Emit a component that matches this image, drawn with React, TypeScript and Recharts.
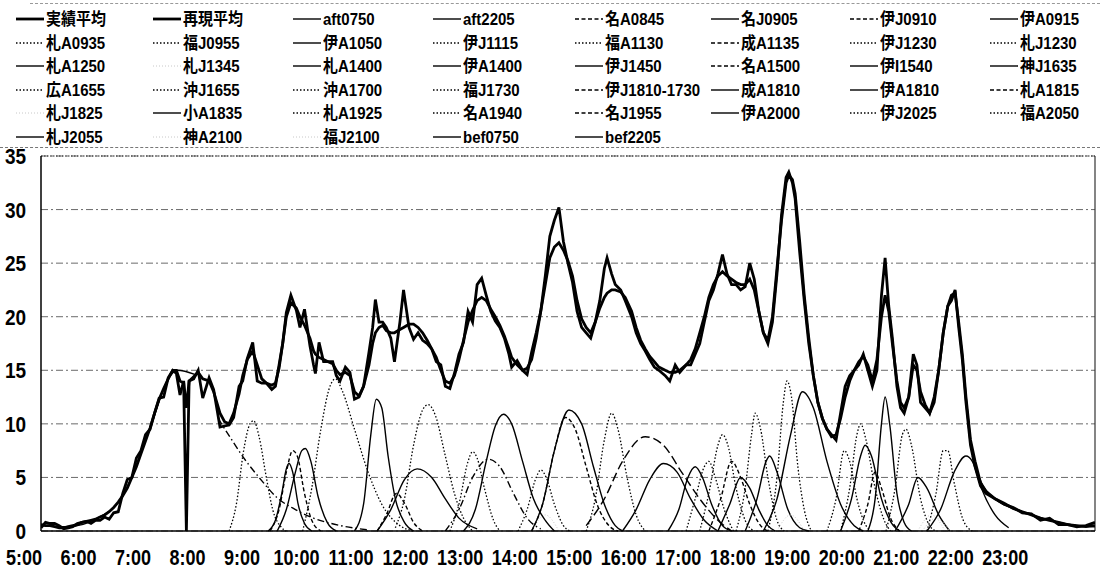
import React from 'react';
import { LineChart, Line, XAxis, YAxis, CartesianGrid, Legend, ReferenceLine } from 'recharts';

type Pt = [string, number];
const toMin = (s: string) => { const [h, m] = s.split(':').map(Number); return h * 60 + m; };
const FONT = '"Liberation Sans", Arial, "Noto Sans CJK JP", sans-serif';

// [time, 実績平均, 再現平均]
const avgRows: [string, number, number][] = [
  ['5:00', 0.3, 0.6], ['5:05', 0.8, 0.5], ['5:10', 0.7, 0.5], ['5:15', 0.7, 0.4], ['5:20', 0.5, 0.3],
  ['5:25', 0.2, 0.3], ['5:30', 0.3, 0.4], ['5:35', 0.4, 0.5], ['5:40', 0.7, 0.6], ['5:45', 0.8, 0.8],
  ['5:50', 0.9, 0.9], ['5:55', 0.7, 1.0], ['6:00', 1.0, 1.1], ['6:05', 1.0, 1.3], ['6:10', 1.3, 1.5],
  ['6:15', 1.1, 1.8], ['6:20', 1.7, 2.2], ['6:25', 1.8, 2.7], ['6:30', 3.5, 3.3], ['6:35', 4.8, 4.0],
  ['6:40', 5.0, 5.0], ['6:45', 6.8, 6.0], ['6:50', 7.5, 7.2], ['6:55', 9.0, 8.4], ['7:00', 9.5, 9.6],
  ['7:05', 11.0, 11.0], ['7:10', 12.4, 12.3], ['7:15', 12.5, 13.3], ['7:20', 14.3, 14.2], ['7:25', 15.0, 15.0],
  ['7:29', 14.7, 15.0], ['7:33', 12.7, 14.0], ['7:37', 14.0, 13.8], ['7:40', 11.5, 0], ['7:43', 14.0, 14.0],
  ['7:48', 14.2, 14.4], ['7:53', 15.0, 14.8], ['7:58', 12.4, 14.2], ['8:05', 14.3, 14.0], ['8:10', 13.2, 13.0],
  ['8:17', 9.7, 11.0], ['8:22', 9.8, 10.2], ['8:27', 9.9, 10.0], ['8:32', 10.6, 11.0], ['8:38', 13.5, 12.8],
  ['8:42', 14.0, 14.5], ['8:47', 16.1, 16.0], ['8:53', 17.6, 16.8], ['8:58', 14.0, 15.5], ['9:03', 13.8, 14.2],
  ['9:08', 13.8, 13.8], ['9:14', 13.2, 13.6], ['9:18', 13.5, 13.8], ['9:22', 15.5, 15.2], ['9:26', 17.5, 17.5],
  ['9:30', 20.4, 20.0], ['9:35', 22.0, 21.3], ['9:41', 20.6, 20.8], ['9:45', 19.0, 20.0], ['9:50', 20.7, 19.2],
  ['9:56', 17.3, 18.0], ['10:00', 15.5, 16.8], ['10:02', 14.7, 16.5], ['10:06', 17.6, 16.2], ['10:11', 15.8, 16.0],
  ['10:16', 15.8, 15.8], ['10:21', 15.8, 15.6], ['10:25', 14.5, 15.0], ['10:29', 14.0, 14.6], ['10:35', 15.3, 14.8],
  ['10:40', 14.8, 14.5], ['10:45', 12.3, 13.0], ['10:50', 12.5, 12.6], ['10:55', 13.5, 13.5], ['11:01', 16.7, 15.5],
  ['11:05', 19.0, 17.5], ['11:08', 21.6, 18.5], ['11:12', 19.5, 19.0], ['11:16', 19.5, 19.2], ['11:20', 19.0, 18.7],
  ['11:25', 18.0, 18.5], ['11:29', 15.8, 18.5], ['11:35', 19.5, 18.8], ['11:39', 22.5, 19.0], ['11:45', 19.0, 19.3],
  ['11:50', 17.9, 19.3], ['11:55', 18.5, 19.0], ['12:00', 17.8, 18.5], ['12:05', 17.5, 17.8], ['12:10', 17.0, 17.0],
  ['12:15', 15.8, 16.2], ['12:20', 15.5, 15.0], ['12:25', 13.5, 14.0], ['12:30', 13.3, 13.8], ['12:35', 14.7, 14.5],
  ['12:40', 16.5, 16.0], ['12:45', 17.6, 17.8], ['12:50', 20.5, 19.5], ['12:55', 19.5, 20.6], ['13:00', 23.0, 21.5],
  ['13:05', 23.6, 21.8], ['13:10', 22.0, 21.5], ['13:15', 20.5, 20.7], ['13:20', 19.6, 20.0], ['13:25', 19.0, 19.2],
  ['13:30', 18.0, 18.2], ['13:35', 16.5, 17.0], ['13:38', 15.3, 16.2], ['13:44', 15.9, 15.5], ['13:50', 15.0, 15.0],
  ['13:55', 14.6, 15.2], ['14:00', 16.7, 16.0], ['14:05', 18.5, 18.0], ['14:10', 20.5, 20.5], ['14:15', 23.8, 23.0],
  ['14:20', 27.5, 25.5], ['14:25', 29.0, 26.5], ['14:30', 30.2, 26.9], ['14:35', 27.0, 26.2], ['14:40', 25.0, 25.2],
  ['14:45', 23.2, 23.8], ['14:50', 20.5, 21.5], ['14:55', 19.0, 19.8], ['15:00', 18.5, 19.0], ['15:05', 18.0, 18.5],
  ['15:10', 19.5, 19.5], ['15:15', 21.5, 20.8], ['15:20', 24.5, 21.8], ['15:23', 25.5, 22.2], ['15:28', 24.0, 22.5],
  ['15:32', 23.0, 22.5], ['15:38', 22.5, 22.3], ['15:43', 21.5, 21.8], ['15:50', 20.0, 20.5], ['15:55', 18.5, 19.0],
  ['16:00', 17.5, 17.8], ['16:05', 16.8, 17.0], ['16:10', 16.0, 16.3], ['16:15', 15.3, 15.8], ['16:20', 15.0, 15.3],
  ['16:27', 14.5, 15.0], ['16:32', 14.0, 14.8], ['16:38', 15.5, 14.8], ['16:43', 14.8, 15.0], ['16:50', 15.5, 15.5],
  ['16:55', 15.5, 16.0], ['17:00', 16.5, 17.0], ['17:05', 17.5, 18.5], ['17:10', 19.5, 20.0], ['17:15', 21.5, 21.8],
  ['17:20', 22.5, 23.0], ['17:25', 24.0, 23.8], ['17:30', 25.8, 24.2], ['17:35', 24.0, 23.8], ['17:40', 23.0, 23.5],
  ['17:45', 23.0, 23.2], ['17:50', 22.5, 23.0], ['17:55', 22.8, 23.0], ['18:00', 25.0, 23.5], ['18:05', 23.5, 22.5],
  ['18:10', 20.5, 20.5], ['18:15', 18.5, 18.5], ['18:20', 17.5, 17.8], ['18:25', 19.5, 20.0], ['18:30', 24.0, 24.5],
  ['18:35', 29.5, 29.0], ['18:40', 33.0, 32.5], ['18:43', 33.5, 33.2], ['18:47', 32.5, 32.8], ['18:50', 31.0, 31.5],
  ['18:55', 26.0, 27.0], ['19:00', 21.5, 22.0], ['19:05', 17.5, 18.0], ['19:10', 14.5, 14.5], ['19:15', 12.0, 12.0],
  ['19:20', 10.5, 10.5], ['19:25', 9.5, 9.5], ['19:30', 9.0, 8.8], ['19:35', 8.5, 9.0], ['19:40', 11.0, 10.5],
  ['19:45', 13.5, 12.5], ['19:50', 14.5, 14.0], ['19:55', 15.0, 15.0], ['20:00', 15.5, 15.8], ['20:05', 16.5, 16.3],
  ['20:10', 15.0, 15.5], ['20:15', 13.5, 14.0], ['20:20', 15.0, 16.0], ['20:25', 22.0, 20.0], ['20:29', 25.5, 22.0],
  ['20:33', 21.0, 20.5], ['20:37', 18.0, 17.5], ['20:42', 13.5, 14.0], ['20:46', 11.5, 12.0], ['20:50', 11.0, 11.5],
  ['20:55', 12.5, 12.5], ['21:00', 16.5, 15.5], ['21:04', 15.5, 15.0], ['21:08', 12.0, 13.0], ['21:13', 11.5, 11.8],
  ['21:18', 11.0, 11.0], ['21:23', 12.0, 12.5], ['21:28', 15.0, 15.0], ['21:33', 18.5, 18.5], ['21:38', 21.0, 21.0],
  ['21:42', 21.5, 22.0], ['21:46', 22.5, 22.2], ['21:50', 19.0, 19.5], ['21:54', 16.0, 16.5], ['21:58', 12.0, 12.5],
  ['22:03', 8.0, 8.5], ['22:08', 6.0, 6.5], ['22:14', 4.2, 4.5], ['22:20', 3.5, 3.7], ['22:30', 3.0, 3.0],
  ['22:40', 2.5, 2.6], ['22:50', 2.2, 2.1], ['23:00', 1.7, 1.8], ['23:10', 1.6, 1.5], ['23:20', 1.0, 1.2],
  ['23:30', 1.2, 1.0], ['23:40', 0.6, 0.8], ['23:50', 0.6, 0.6], ['24:00', 0.4, 0.5], ['24:10', 0.5, 0.4],
  ['24:20', 0.8, 0.5],
];

const bef0750: Pt[] = [['5:00', 0.5], ['5:30', 0.4], ['6:00', 1.1], ['6:30', 3.3], ['7:00', 9.6], ['7:20', 14.2], ['7:30', 15.0], ['7:50', 14.6]];
const aft0750: Pt[] = [['8:15', 10.5], ['8:30', 8.5], ['8:45', 6.6], ['9:00', 5.0], ['9:20', 3.1], ['9:40', 2.0], ['10:00', 1.2], ['10:30', 0.5], ['11:00', 0.1]];
const aft2205: Pt[] = [['22:05', 7.0], ['22:15', 4.5], ['22:30', 3.0], ['23:00', 1.8], ['23:30', 1.0], ['24:00', 0.5], ['24:20', 0.4]];
const bef2205: Pt[] = [['21:15', 0], ['21:30', 2], ['21:45', 5.5], ['21:58', 7], ['22:05', 6.5], ['22:15', 4], ['22:30', 1.5], ['22:45', 0.3]];
const sapA0935: Pt[] = [['8:27', 0], ['8:35', 2.5], ['8:43', 7.5], ['8:50', 10], ['8:54', 10.3], ['9:00', 8.8], ['9:08', 5], ['9:15', 2], ['9:25', 0.3], ['9:30', 0]];
const nagJ0905: Pt[] = [['9:10', 0], ['9:18', 1], ['9:25', 3.5], ['9:30', 5.8], ['9:33', 6.3], ['9:37', 5.5], ['9:43', 2.5], ['9:50', 0.7], ['9:58', 0]];
const nagA0845: Pt[] = [['9:12', 0], ['9:22', 2], ['9:30', 5.5], ['9:37', 7.5], ['9:42', 7], ['9:50', 3.5], ['9:58', 1], ['10:08', 0]];
const itaA0915: Pt[] = [['9:20', 0], ['9:30', 2], ['9:40', 5.5], ['9:47', 7.5], ['9:51', 7.7], ['9:57', 6.5], ['10:05', 3.2], ['10:15', 0.8], ['10:25', 0]];
const fukJ0955: Pt[] = [['9:48', 0], ['9:58', 4], ['10:08', 9.5], ['10:18', 13.5], ['10:24', 14.2], ['10:32', 13], ['10:45', 9.5], ['11:00', 5.5], ['11:15', 2.5], ['11:35', 0.5], ['11:50', 0]];
const itaA1050: Pt[] = [['10:45', 0], ['10:55', 2.5], ['11:03', 9], ['11:09', 12.3], ['11:15', 11.5], ['11:22', 7], ['11:30', 3], ['11:40', 0.8], ['11:50', 0]];
const itaJ0910: Pt[] = [['11:10', 0], ['11:20', 1.5], ['11:31', 3.5], ['11:40', 2.6], ['11:50', 0.8], ['12:00', 0]];
const sapA1250: Pt[] = [['11:10', 0], ['11:25', 2], ['11:40', 4.8], ['11:54', 5.8], ['12:10', 5], ['12:25', 3], ['12:40', 1.2], ['13:00', 0.2]];
const itaJ1115: Pt[] = [['11:30', 0.3], ['11:40', 3], ['11:50', 8], ['12:00', 11.3], ['12:06', 11.8], ['12:14', 10.8], ['12:25', 7], ['12:35', 3.5], ['12:45', 1.2], ['12:55', 0]];
const fukA1130: Pt[] = [['12:30', 0], ['12:40', 2.5], ['12:50', 6.5], ['12:55', 7.4], ['13:00', 6.8], ['13:08', 4], ['13:18', 1], ['13:25', 0]];
const narA1135: Pt[] = [['12:25', 0], ['12:40', 2], ['12:55', 5], ['13:12', 6.7], ['13:25', 6], ['13:40', 3.5], ['13:55', 1.2], ['14:10', 0.2]];
const sapA1400: Pt[] = [['12:45', 0], ['12:58', 2], ['13:10', 6.5], ['13:20', 9.8], ['13:29', 10.9], ['13:38', 10], ['13:50', 6.5], ['14:02', 3], ['14:15', 1], ['14:25', 0]];
const itaJ1230: Pt[] = [['13:45', 0], ['13:55', 2], ['14:05', 5], ['14:10', 5.7], ['14:16', 5], ['14:25', 2.5], ['14:35', 0.5], ['14:42', 0]];
const nagA1500: Pt[] = [['14:00', 0], ['14:12', 2.5], ['14:25', 7.5], ['14:37', 10.6], ['14:48', 9.5], ['15:00', 6], ['15:12', 2.5], ['15:25', 0.5], ['15:35', 0]];
const itaA1400: Pt[] = [['14:00', 0], ['14:12', 2.5], ['14:25', 7.5], ['14:41', 11.3], ['14:55', 10], ['15:08', 6], ['15:20', 2.5], ['15:32', 0.5], ['15:40', 0]];
const sapJ1230: Pt[] = [['15:00', 0], ['15:10', 3], ['15:20', 8.5], ['15:28', 11], ['15:35', 9.5], ['15:45', 5], ['15:55', 1.5], ['16:05', 0]];
const itaJ1810: Pt[] = [['15:00', 0.5], ['15:20', 3], ['15:40', 6.5], ['16:05', 8.8], ['16:25', 8], ['16:45', 5.5], ['17:05', 3], ['17:25', 1], ['17:40', 0]];
const itaJ1450: Pt[] = [['15:40', 0], ['15:55', 2], ['16:10', 4.8], ['16:25', 6.3], ['16:40', 5.5], ['16:55', 3], ['17:10', 1], ['17:25', 0]];
const itaI1540: Pt[] = [['16:30', 0], ['16:42', 2], ['16:52', 5], ['17:00', 6], ['17:08', 5], ['17:18', 2.5], ['17:30', 0.5], ['17:40', 0]];
const hirA1655: Pt[] = [['16:50', 0], ['17:00', 3], ['17:10', 6], ['17:15', 6.5], ['17:22', 5], ['17:32', 2], ['17:42', 0]];
const okiJ1655: Pt[] = [['17:05', 0], ['17:15', 3.5], ['17:25', 8], ['17:30', 9], ['17:36', 8], ['17:45', 4], ['17:55', 1], ['18:05', 0]];
const sapA1815: Pt[] = [['17:15', 0], ['17:28', 3], ['17:40', 6.5], ['17:50', 5], ['18:00', 2.5], ['18:12', 0.5], ['18:20', 0]];
const kobJ1635: Pt[] = [['17:25', 0], ['17:38', 2.5], ['17:50', 5], ['18:00', 4], ['18:10', 2], ['18:20', 0.5], ['18:28', 0]];
const okiA1700: Pt[] = [['17:45', 0], ['17:55', 4], ['18:02', 9], ['18:06', 11], ['18:12', 9.5], ['18:20', 5], ['18:30', 1], ['18:38', 0]];
const narA1810: Pt[] = [['17:55', 0], ['18:08', 3], ['18:18', 6.5], ['18:22', 7], ['18:30', 5.5], ['18:42', 2], ['18:55', 0.3], ['19:05', 0]];
const fukJ1730: Pt[] = [['18:20', 0], ['18:30', 5], ['18:37', 12], ['18:41', 14], ['18:46', 12.5], ['18:53', 6], ['19:00', 2], ['19:08', 0]];
const itaA1810: Pt[] = [['18:15', 0], ['18:30', 3], ['18:45', 9], ['18:58', 13], ['19:10', 11.5], ['19:25', 6.5], ['19:40', 2.5], ['19:55', 0.5], ['20:05', 0]];
const sapA1925: Pt[] = [['19:25', 0], ['19:35', 3], ['19:44', 7.5], ['19:50', 6.5], ['19:58', 3], ['20:08', 0.5], ['20:15', 0]];
const nagA1940: Pt[] = [['19:40', 0], ['19:50', 4], ['19:58', 9], ['20:02', 10], ['20:08', 8.5], ['20:18', 4], ['20:28', 1], ['20:35', 0]];
const kanA1835: Pt[] = [['19:40', 0], ['19:52', 3], ['20:02', 7], ['20:07', 8], ['20:14', 7], ['20:25', 3], ['20:38', 0.5], ['20:45', 0]];
const nagJ1955: Pt[] = [['20:00', 0], ['20:10', 2.5], ['20:18', 5.5], ['20:25', 4], ['20:35', 1.2], ['20:45', 0]];
const itaA2000: Pt[] = [['20:10', 0], ['20:18', 3], ['20:25', 10], ['20:29', 12.5], ['20:34', 10], ['20:42', 3.5], ['20:50', 0.8], ['20:58', 0]];
const itaJ2025: Pt[] = [['20:30', 0], ['20:40', 4], ['20:48', 9], ['20:52', 9.5], ['20:58', 8], ['21:08', 3], ['21:18', 0.5], ['21:25', 0]];
const sapJ2055: Pt[] = [['20:40', 0], ['20:55', 2.5], ['21:05', 5], ['21:15', 4], ['21:28', 1.5], ['21:40', 0]];
const fukA2050: Pt[] = [['21:15', 0], ['21:25', 3.5], ['21:33', 7.5], ['21:38', 7.5], ['21:45', 4.5], ['21:55', 1], ['22:05', 0]];
const sapJ1345: Pt[] = [['14:00', 0], ['14:15', 1.5], ['14:30', 0]];
const sapJ1825: Pt[] = [['18:30', 0], ['18:45', 1.5], ['19:00', 0]];
const kobA2100: Pt[] = [['21:05', 0], ['21:20', 1.5], ['21:35', 0]];
const fukJ2100: Pt[] = [['21:10', 0], ['21:25', 1.2], ['21:40', 0]];

const legendNames = [
  '実績平均', '再現平均', 'aft0750', 'aft2205', '名A0845', '名J0905', '伊J0910', '伊A0915',
  '札A0935', '福J0955', '伊A1050', '伊J1115', '福A1130', '成A1135', '伊J1230', '札J1230',
  '札A1250', '札J1345', '札A1400', '伊A1400', '伊J1450', '名A1500', '伊I1540', '神J1635',
  '広A1655', '沖J1655', '沖A1700', '福J1730', '伊J1810-1730', '成A1810', '伊A1810', '札A1815',
  '札J1825', '小A1835', '札A1925', '名A1940', '名J1955', '伊A2000', '伊J2025', '福A2050',
  '札J2055', '神A2100', '福J2100', 'bef0750', 'bef2205',
];

const flightPoints: Record<string, Pt[]> = {
  aft0750, aft2205, '名A0845': nagA0845, '名J0905': nagJ0905, '伊J0910': itaJ0910, '伊A0915': itaA0915,
  '札A0935': sapA0935, '福J0955': fukJ0955, '伊A1050': itaA1050, '伊J1115': itaJ1115, '福A1130': fukA1130,
  '成A1135': narA1135, '伊J1230': itaJ1230, '札J1230': sapJ1230, '札A1250': sapA1250, '札J1345': sapJ1345,
  '札A1400': sapA1400, '伊A1400': itaA1400, '伊J1450': itaJ1450, '名A1500': nagA1500, '伊I1540': itaI1540,
  '神J1635': kobJ1635, '広A1655': hirA1655, '沖J1655': okiJ1655, '沖A1700': okiA1700, '福J1730': fukJ1730,
  '伊J1810-1730': itaJ1810, '成A1810': narA1810, '伊A1810': itaA1810, '札A1815': sapA1815, '札J1825': sapJ1825,
  '小A1835': kanA1835, '札A1925': sapA1925, '名A1940': nagA1940, '名J1955': nagJ1955, '伊A2000': itaA2000,
  '伊J2025': itaJ2025, '福A2050': fukA2050, '札J2055': sapJ2055, '神A2100': kobA2100, '福J2100': fukJ2100,
  bef0750, bef2205,
};

const yTicks = [0, 5, 10, 15, 20, 25, 30, 35];
const hourTicks = [5, 6, 7, 8, 9, 10, 11, 12, 13, 14, 15, 16, 17, 18, 19, 20, 21, 22, 23];

// ---- styles (kept separate from data) ----
type St = { w: number; dash?: string; color?: string };
const SOLID: St = { w: 1.4 };
const DOT: St = { w: 1.3, dash: '1.5 2' };
const DASH: St = { w: 1.4, dash: '4 2.5' };
const DASHDOT: St = { w: 1.4, dash: '7 3 1.5 3' };
const LONGDASH: St = { w: 1.4, dash: '9 4' };
const FAINT: St = { w: 1, dash: '1 2', color: '#c8c8c8' };
const THICK: St = { w: 2.8 };
const styleOf: Record<string, St> = {
  '実績平均': THICK, '再現平均': THICK, aft0750: DASHDOT, aft2205: SOLID, '名A0845': DASH, '名J0905': SOLID,
  '伊J0910': DASH, '伊A0915': SOLID, '札A0935': DOT, '福J0955': DOT, '伊A1050': SOLID, '伊J1115': DOT,
  '福A1130': DOT, '成A1135': DASHDOT, '伊J1230': DOT, '札J1230': DOT, '札A1250': SOLID, '札J1345': FAINT,
  '札A1400': SOLID, '伊A1400': SOLID, '伊J1450': SOLID, '名A1500': DASH, '伊I1540': SOLID, '神J1635': SOLID,
  '広A1655': DOT, '沖J1655': DOT, '沖A1700': DOT, '福J1730': DOT, '伊J1810-1730': LONGDASH, '成A1810': SOLID,
  '伊A1810': SOLID, '札A1815': DASH, '札J1825': FAINT, '小A1835': SOLID, '札A1925': DOT, '名A1940': DOT,
  '名J1955': DASH, '伊A2000': SOLID, '伊J2025': DOT, '福A2050': DOT, '札J2055': SOLID, '神A2100': FAINT,
  '福J2100': FAINT, bef0750: SOLID, bef2205: SOLID,
};
const legendDash: Record<string, string | undefined> = {
  aft0750: undefined, '成A1135': '4 2.5', '伊J1810-1730': '4 2.5',
};

const toSeries = (pts: Pt[]) => pts.map(([t, v]) => ({ t: toMin(t), v }));
const actualData = avgRows.map(([t, a]) => ({ t: toMin(t), v: a }));
const reproData = avgRows.map(([t, , r]) => ({ t: toMin(t), v: r }));

const colX = [16, 153, 293, 433, 575, 711, 850, 990];
const rowY = [19, 43, 66, 90, 113, 137];

const LegendBox = () => (
  <div style={{ position: 'relative', width: 1100, height: 150, fontFamily: FONT }}>
    <div style={{ position: 'absolute', left: 30, top: 3, width: 1070, borderTop: '1px dashed #999' }} />
    <div style={{ position: 'absolute', left: 0, top: 147, width: 1100, borderTop: '1px dashed #777' }} />
    {legendNames.map((name, i) => {
      const st = styleOf[name];
      const x = colX[i % 8];
      const y = rowY[Math.floor(i / 8)];
      const dash = name in legendDash ? legendDash[name] : st.dash;
      return (
        <div key={name} style={{ position: 'absolute', left: x, top: y - 10, height: 20, whiteSpace: 'nowrap' }}>
          <svg width={28} height={20} style={{ position: 'absolute', left: 0, top: 0 }}>
            <line x1={0} x2={28} y1={10} y2={10} stroke={st.color ?? '#000'} strokeWidth={st.w} strokeDasharray={dash} />
          </svg>
          <span style={{ position: 'absolute', left: 30, top: 0, fontSize: 15, fontWeight: 700, lineHeight: '20px', color: '#000', display: 'inline-block', transform: 'scaleY(1.15)', transformOrigin: 'left center' }}>{name}</span>
        </div>
      );
    })}
  </div>
);

const XTick = (props: any) => {
  const { x, payload } = props;
  const h = payload.value / 60;
  return (
    <g transform={`translate(${x - 17},565) scale(1,1.2)`}>
      <text x={0} y={0} textAnchor="middle" fontFamily={FONT} fontWeight={700} fontSize={18} fill="#000">{`${h}:00`}</text>
    </g>
  );
};
const YTick = (props: any) => {
  const { y, payload } = props;
  return (
    <g transform={`translate(26,${y + 8}) scale(1,1.2)`}>
      <text x={0} y={0} textAnchor="end" fontFamily={FONT} fontWeight={700} fontSize={19} fill="#000">{payload.value}</text>
    </g>
  );
};

export default function App() {
  return (
    <div style={{ position: 'absolute', left: 0, top: 0, width: 1100, height: 571, background: '#fff' }}>
      <LineChart width={1100} height={571} margin={{ top: 156, right: 5, bottom: 0, left: 0 }}>
        <CartesianGrid vertical={false} stroke="#444" strokeWidth={0.8} strokeDasharray="7 3 2 3" />
        <XAxis dataKey="t" type="number" domain={[300, 1460]} allowDataOverflow ticks={hourTicks.map((h) => h * 60)}
          interval={0} tick={<XTick />} tickLine={false} axisLine={{ stroke: '#000', strokeWidth: 1.5 }} height={40} />
        <YAxis type="number" domain={[0, 35]} ticks={yTicks} interval={0} width={41} tick={<YTick />} tickLine={false}
          axisLine={{ stroke: '#000', strokeWidth: 1.5 }} />
        <ReferenceLine y={35} stroke="#222" strokeDasharray="1.5 1.5" strokeWidth={1.2} />
        <ReferenceLine x={1460} stroke="#333" strokeWidth={1.2} />
        <Legend layout="horizontal" verticalAlign="middle" align="center" content={() => <LegendBox />}
          wrapperStyle={{ left: 0, top: 0, width: 1100, height: 150 }} />
        {legendNames.slice(2).map((name) => {
          const st = styleOf[name];
          return (
            <Line key={name} name={name} data={toSeries(flightPoints[name])} dataKey="v" type="monotone"
              stroke={st.color ?? '#000'} strokeWidth={st.w} strokeDasharray={st.dash} dot={false}
              isAnimationActive={false} />
          );
        })}
        <Line name="再現平均" data={reproData} dataKey="v" type="linear" stroke="#000" strokeWidth={2.8} dot={false} isAnimationActive={false} />
        <Line name="実績平均" data={actualData} dataKey="v" type="linear" stroke="#000" strokeWidth={2.8} dot={false} isAnimationActive={false} />
      </LineChart>
    </div>
  );
}
